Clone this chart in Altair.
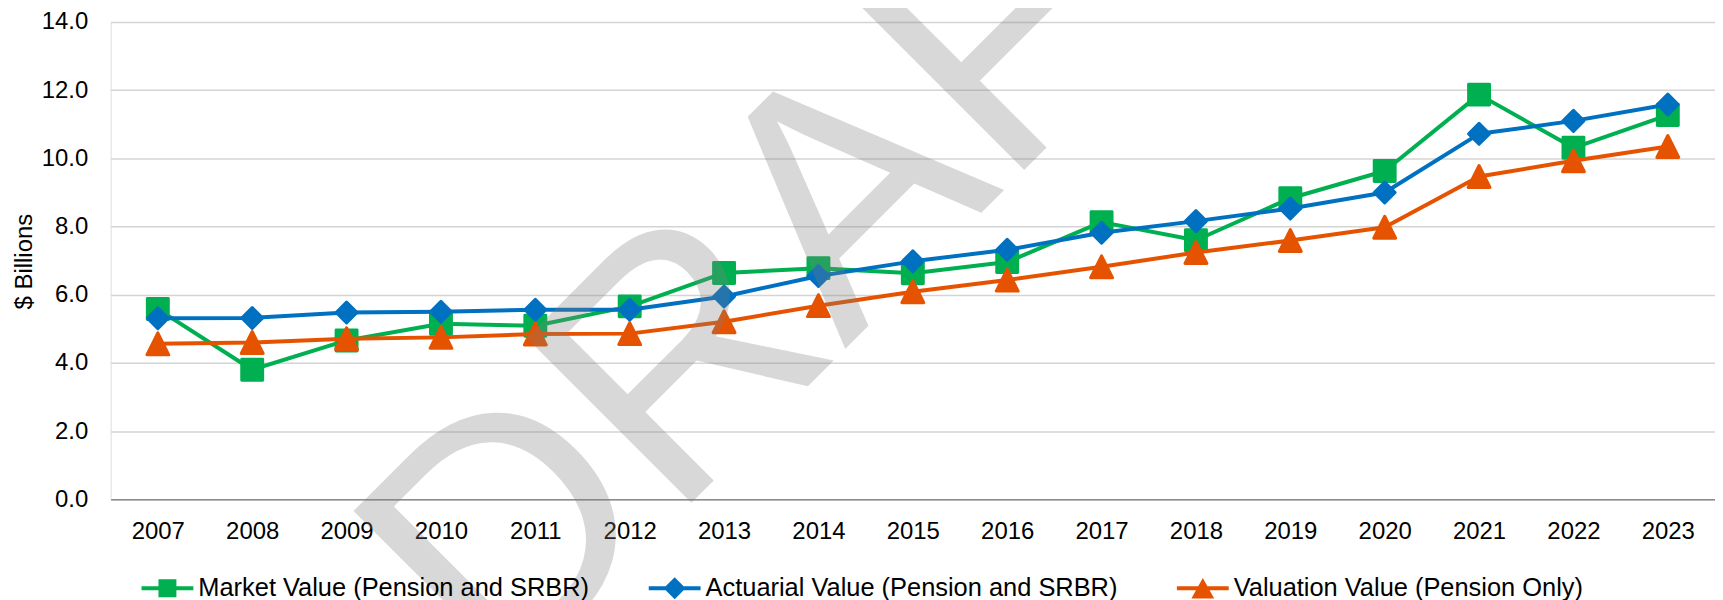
import altair as alt
import pandas as pd

years = ["2007", "2008", "2009", "2010", "2011", "2012", "2013", "2014", "2015",
         "2016", "2017", "2018", "2019", "2020", "2021", "2022", "2023"]
market = [5.58, 3.80, 4.66, 5.15, 5.09, 5.66, 6.64, 6.78, 6.63, 6.96, 8.13, 7.60, 8.83, 9.63, 11.87, 10.31, 11.27]
actuarial = [5.31, 5.32, 5.48, 5.50, 5.56, 5.56, 5.95, 6.55, 6.98, 7.32, 7.82, 8.16, 8.53, 9.00, 10.72, 11.10, 11.58]
valuation = [4.56, 4.60, 4.71, 4.75, 4.85, 4.86, 5.21, 5.68, 6.09, 6.43, 6.82, 7.24, 7.59, 7.98, 9.47, 9.93, 10.35]
series_names = ["Market Value (Pension and SRBR)",
                "Actuarial Value (Pension and SRBR)",
                "Valuation Value (Pension Only)"]
y_ticks = [0, 2, 4, 6, 8, 10, 12, 14]
y_title = "$ Billions"
watermark = ["DRAFT"]

colors = ["#00B050", "#0070C0", "#E65300"]
FONT = "Liberation Sans, Arial, sans-serif"

rows = []
for name, vals in zip(series_names, [market, actuarial, valuation]):
    for yr, v in zip(years, vals):
        rows.append({"year": yr, "series": name, "value": v})
df = pd.DataFrame(rows)

x_enc = alt.X("year:O", sort=years,
              scale=alt.Scale(type="point", padding=0.5),
              axis=alt.Axis(title=None, labelAngle=0, labelFontSize=24, labelFont=FONT,
                            labelColor="#000000", ticks=False, tickSize=0, labelPadding=20,
                            domainColor="#8c8c8c", domainWidth=1.5, grid=False))
y_enc = alt.Y("value:Q", scale=alt.Scale(domain=[0, 14], nice=False, zero=True),
              axis=alt.Axis(values=y_ticks, format=".1f", title=y_title,
                            titleFontSize=24, titleFont=FONT, titleFontWeight="normal",
                            titleColor="#000000", titleAngle=270, titleX=-86, titleY=240,
                            titleAlign="center", titleBaseline="middle",
                            labelFontSize=24, labelFont=FONT, labelColor="#000000",
                            labelPadding=23, ticks=False, tickSize=0, domain=False,
                            grid=True, gridColor="#d4d4d4", gridWidth=1.5))

base = alt.Chart(df)

marker_shapes = ["square", "diamond", "M0,-1L1,1L-1,1Z"]
marker_sizes = [441, 441, 484]

layers = []
for name, col, shp, sz in zip(series_names, colors, marker_shapes, marker_sizes):
    f = base.transform_filter(alt.datum.series == name)
    layers.append(f.mark_line(color=col, strokeWidth=4, strokeJoin="round", strokeCap="round")
                  .encode(x=x_enc, y=y_enc))
    layers.append(f.mark_point(filled=True, color=col, stroke=col, strokeWidth=3,
                               strokeJoin="round", shape=shp, size=sz, opacity=1)
                  .encode(x=x_enc, y=y_enc))

line_bar = "M-1,-0.077H1V0.077H-1Z "
legend_paths = [
    line_bar + "M-0.346,-0.346H0.346V0.346H-0.346Z",
    line_bar + "M0,-0.423L0.423,0L0,0.423L-0.423,0Z",
    line_bar + "M0,-0.4L0.44,0.4L-0.44,0.4Z",
]

def make_legend():
    return alt.Legend(title=None, orient="none", legendX=31, legendY=542,
                      direction="horizontal", columns=3, symbolSize=2704,
                      symbolStrokeWidth=0, labelFontSize=25.5, labelFont=FONT,
                      labelColor="#000000", labelOffset=5, columnPadding=59,
                      padding=0, labelLimit=0)

legend_layer = (
    base.transform_filter("datum.value < 0")
    .mark_point(filled=True, opacity=1, size=2704)
    .encode(
        x=x_enc, y=y_enc,
        color=alt.Color("series:N", scale=alt.Scale(domain=series_names, range=colors),
                        legend=make_legend()),
        shape=alt.Shape("series:N", scale=alt.Scale(domain=series_names, range=legend_paths),
                        legend=make_legend()),
    )
)

wm = (
    alt.Chart(pd.DataFrame({"t": watermark}))
    .mark_text(fontSize=340, font=FONT, angle=315, align="center", baseline="middle",
               color="#7f7f7f", opacity=0.3)
    .encode(text="t:N", x=alt.value(718), y=alt.value(203))
)

chart = (
    alt.layer(*layers, legend_layer, wm)
    .properties(width=1610, height=479,
                padding={"left": 103, "top": 13, "right": 0, "bottom": 106},
                autosize=alt.AutoSizeParams(type="none"))
    .configure_view(stroke=None)
    .configure(background="white")
)

chart.save("out.html", embed_options={"renderer": "svg", "actions": False})
